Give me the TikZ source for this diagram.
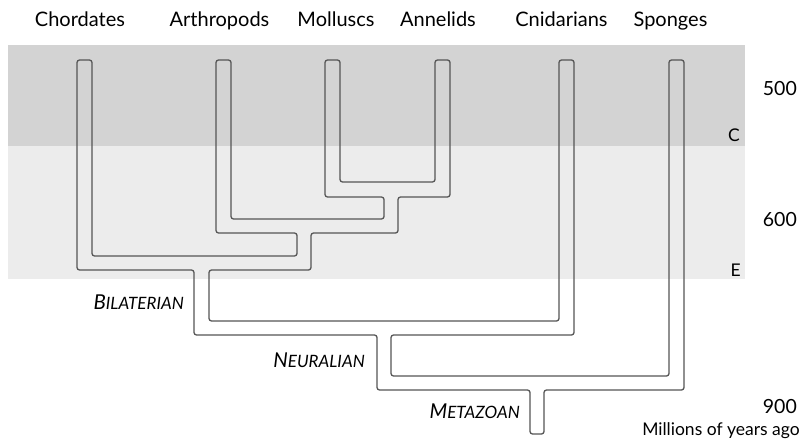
\documentclass[tikz,border=0pt]{standalone}
\usepackage{fontspec}
\setmainfont{Lato}
\definecolor{bandC}{HTML}{D3D3D3}
\definecolor{bandE}{HTML}{ECECEC}
\definecolor{tubeline}{HTML}{555555}
\begin{document}
\begin{tikzpicture}[x=1pt,y=-1pt,
  taxon/.style={anchor=base, inner sep=0pt, font=\fontsize{20}{20}\selectfont},
  age/.style={anchor=base east, inner sep=0pt, font=\fontsize{19.5}{19.5}\selectfont},
  period/.style={anchor=base east, inner sep=0pt, font=\fontsize{17.5}{17.5}\selectfont},
  clade/.style={anchor=base east, inner sep=0pt, font=\itshape},
  tube/.style={draw=tubeline, line width=1.3pt, rounded corners=2.5pt, line join=round}]
\useasboundingbox (0,0) rectangle (800,441);
% time bands
\fill[bandC] (8,45) rectangle (745,146);
\fill[bandE] (8,146) rectangle (745,279);
% tree outline
\draw[tube] (84.5,60) -- (92,60) -- (92,256) -- (297,256) -- (297,233) -- (216,233) -- (216,60)
  -- (231,60) -- (231,219) -- (384,219) -- (384,197) -- (325,197) -- (325,60)
  -- (340,60) -- (340,182) -- (435,182) -- (435,60) -- (450,60) -- (450,197)
  -- (398,197) -- (398,233) -- (311,233) -- (311,270) -- (209,270) -- (209,321)
  -- (559,321) -- (559,60) -- (574,60) -- (574,335) -- (391,335) -- (391,376)
  -- (669,376) -- (669,60) -- (684,60) -- (684,390) -- (544,390) -- (544,434)
  -- (530,434) -- (530,390) -- (377,390) -- (377,335) -- (194,335) -- (194,270)
  -- (77,270) -- (77,60) -- cycle;
% taxa
\node[taxon] (chor) at (80,27) {Chordates};
\node[taxon] (arth) at (219.5,27) {Arthropods};
\node[taxon] (moll) at (336,27) {Molluscs};
\node[taxon] (anne) at (438,27) {Annelids};
\node[taxon] (cnid) at (561.5,27) {Cnidarians};
\node[taxon] (spon) at (670.5,27) {Sponges};
% ages
\node[age] (a500) at (797,96) {500};
\node[age] (a600) at (797,226) {600};
\node[age] (a900) at (797,413) {900};
\node[anchor=base east, inner sep=0pt, font=\fontsize{17.5}{17.5}\selectfont] (unit) at (800,435) {Millions of years ago};
\node[period] (pC) at (740,142) {C};
\node[period] (pE) at (741,276) {E};
% clades
\node[clade] (bil) at (184,309) {{\fontsize{20.5}{20.5}\selectfont B}{\fontsize{17}{17}\selectfont ILATERIAN}};
\node[clade] (neu) at (365,367) {{\fontsize{20.5}{20.5}\selectfont N}{\fontsize{17}{17}\selectfont EURALIAN}};
\node[clade] (met) at (520,418) {{\fontsize{20.5}{20.5}\selectfont M}{\fontsize{17}{17}\selectfont ETAZOAN}};
\end{tikzpicture}
\end{document}
